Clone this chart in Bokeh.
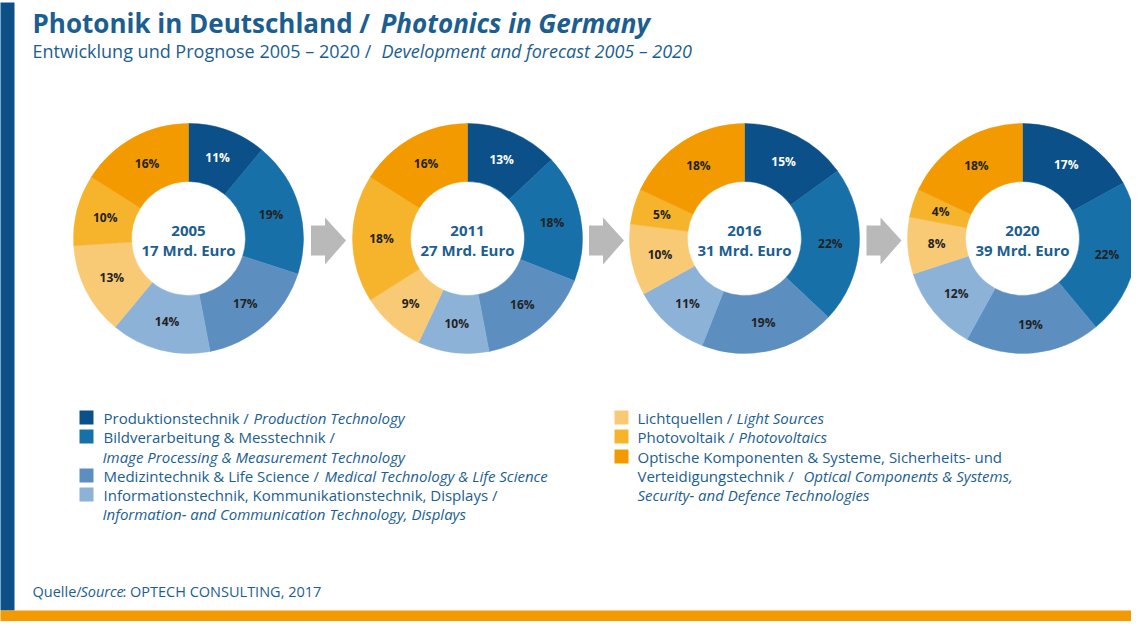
import math
from bokeh.plotting import figure
from bokeh.models import Range1d, ColumnDataSource
from bokeh.core.properties import value
from bokeh.embed import file_html
from bokeh.resources import INLINE

# ---------------- data ----------------
years = ["2005", "2011", "2016", "2020"]
totals = ["17 Mrd. Euro", "27 Mrd. Euro", "31 Mrd. Euro", "39 Mrd. Euro"]
segments = ["Produktionstechnik", "Bildverarbeitung & Messtechnik",
            "Medizintechnik & Life Science", "Informationstechnik",
            "Lichtquellen", "Photovoltaik", "Optische Komponenten"]
share_2005 = [11, 19, 17, 14, 13, 10, 16]
share_2011 = [13, 18, 16, 10, 9, 18, 16]
share_2016 = [15, 22, 19, 11, 10, 5, 18]
share_2020 = [17, 22, 19, 12, 8, 4, 18]
shares = [share_2005, share_2011, share_2016, share_2020]
colors = ["#0b5088", "#1870a8", "#5c8fc0", "#8cb2d8", "#f9ca76", "#f5b42c", "#f39a00"]

title_de = "Photonik in Deutschland /"
title_en = "Photonics in Germany"
sub_de = "Entwicklung und Prognose 2005 \u2013 2020 /"
sub_en = "Development and forecast 2005 \u2013 2020"

# ---------------- layout ----------------
W, H = 1131, 621
def X(rx):
    return rx - 8
def Y(ry):
    return 629 - ry

BLUE = "#1b5e8f"
FONT = value("Open Sans")

p = figure(width=W, height=H, x_range=Range1d(0, W), y_range=Range1d(0, H),
           output_backend="svg", toolbar_location=None, min_border=0)
p.axis.visible = False
p.grid.visible = False
p.outline_line_color = None
p.background_fill_color = "white"
p.border_fill_color = "white"

# side and bottom bars
p.quad(left=[X(5)], right=[X(22)], bottom=[Y(618)], top=[Y(10)],
       fill_color="#0d5088", line_color=None)
p.quad(left=[X(5)], right=[X(1160)], bottom=[Y(645)], top=[Y(618)],
       fill_color="#f39a00", line_color=None)

def txt(rx, ry, s, size, style="normal", color=BLUE, align="left", baseline="alphabetic"):
    p.text(x=[X(rx)], y=[Y(ry)], text=[s], text_font=FONT, text_font_size=size,
           text_font_style=style, text_color=color, text_align=align,
           text_baseline=baseline)

# title
txt(40, 30, title_de, "26px", "bold")
txt(388, 30, title_en, "26px", "bold italic")
txt(40, 58, sub_de, "18px")
txt(389, 58, sub_en, "18px", "italic")

# donuts
centers_x = [196, 475, 752, 1030]
cy = 246
R_OUT, R_IN, R_LAB = 115, 57, 86
for k, vals in enumerate(shares):
    total = sum(vals)
    cum = 0
    xs, ys, st, en, cols, lx, ly, labs, lcol = [], [], [], [], [], [], [], [], []
    for i, v in enumerate(vals):
        a0 = math.pi / 2 - 2 * math.pi * cum / total
        cum += v
        a1 = math.pi / 2 - 2 * math.pi * cum / total
        am = (a0 + a1) / 2
        xs.append(X(centers_x[k])); ys.append(Y(cy))
        st.append(a0); en.append(a1); cols.append(colors[i])
        lx.append(X(centers_x[k]) + R_LAB * math.cos(am))
        ly.append(Y(cy) + R_LAB * math.sin(am))
        labs.append(f"{v}%")
        lcol.append("#ffffff" if i == 0 else "#222222")
    src = ColumnDataSource(dict(x=xs, y=ys, start=st, end=en, color=cols,
                                lx=lx, ly=ly, lab=labs, lcol=lcol))
    p.annular_wedge(x="x", y="y", inner_radius=R_IN, outer_radius=R_OUT,
                    start_angle="start", end_angle="end", direction="clock",
                    fill_color="color", line_color="color", line_width=0.5,
                    source=src)
    p.text(x="lx", y="ly", text="lab", source=src, text_font=FONT,
           text_font_size="12px", text_font_style="bold", text_color="lcol",
           text_align="center", text_baseline="middle")
    txt(centers_x[k], 238, years[k], "15px", "bold", align="center", baseline="middle")
    txt(centers_x[k], 257, totals[k], "15px", "bold", align="center", baseline="middle")

# arrows between donuts
for k in range(3):
    mx = (centers_x[k] + centers_x[k + 1]) / 2
    ax = [mx - 17, mx - 3, mx - 3, mx + 18, mx - 3, mx - 3, mx - 17]
    ay = [233, 233, 225, 248, 272, 263, 263]
    p.patch(x=[X(v) for v in ax], y=[Y(v) for v in ay],
            fill_color="#b9b9b9", line_color=None)

# legend
SQ = 14
left_rows = [(425, 0), (444, 1), (483, 2), (502, 3)]
right_rows = [(425, 4), (444, 5), (464, 6)]
for ry, ci in left_rows:
    p.rect(x=[X(87 + SQ / 2)], y=[Y(ry)], width=SQ, height=SQ,
           fill_color=colors[ci], line_color=None)
for ry, ci in right_rows:
    p.rect(x=[X(622 + SQ / 2)], y=[Y(ry)], width=SQ, height=SQ,
           fill_color=colors[ci], line_color=None)

LS = "15px"
def ltxt(rx, ry, s, style="normal", size=LS):
    txt(rx, ry, s, size, style, baseline="middle")

ltxt(111, 425, "Produktionstechnik /")
ltxt(261, 425, "Production Technology", "italic")
ltxt(111, 444, "Bildverarbeitung & Messtechnik /")
ltxt(110, 464, "Image Processing & Measurement Technology", "italic")
ltxt(111, 483, "Medizintechnik & Life Science /")
ltxt(332, 483, "Medical Technology & Life Science", "italic")
ltxt(111, 502, "Informationstechnik, Kommunikationstechnik, Displays /")
ltxt(110, 521, "Information- and Communication Technology, Displays", "italic")

ltxt(645, 425, "Lichtquellen /")
ltxt(744, 425, "Light Sources", "italic")
ltxt(645, 444, "Photovoltaik /")
ltxt(746, 444, "Photovoltaics", "italic")
ltxt(645, 464, "Optische Komponenten & Systeme, Sicherheits- und")
ltxt(645, 483, "Verteidigungstechnik /")
ltxt(811, 483, "Optical Components & Systems,", "italic")
ltxt(645, 502, "Security- and Defence Technologies", "italic")

# source
ltxt(40, 599, "Quelle/", size="14.5px")
ltxt(88, 599, "Source", "italic", size="14.5px")
ltxt(130, 599, ": OPTECH CONSULTING, 2017", size="14.5px")

open("out.html", "w").write(file_html(p, INLINE))
